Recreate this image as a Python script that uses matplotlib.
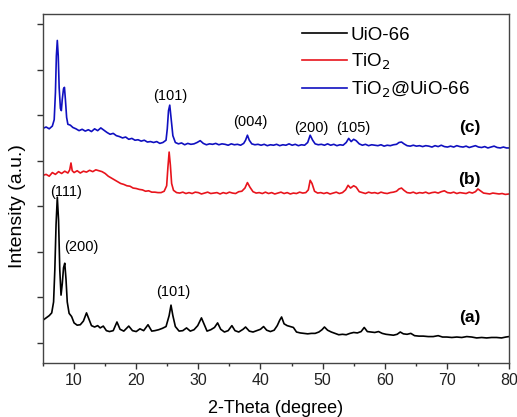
import matplotlib
matplotlib.use("Agg")
import matplotlib.pyplot as plt
from matplotlib.ticker import MultipleLocator, NullFormatter

plt.rcParams['font.family'] = ['Liberation Sans', 'DejaVu Sans']

# ---- data (2-theta, offset intensity in arbitrary units) ----
uio_x = [5.0, 5.5, 6.0, 6.4, 6.7, 6.9, 7.1, 7.3, 7.5, 7.7, 7.9, 8.1, 8.3, 8.5, 8.7, 8.9, 9.2, 9.6,
         10.0, 10.5, 11.0, 11.5, 12.0, 12.4, 12.8, 13.3, 13.8, 14.2, 14.7, 15.2, 15.7, 16.3, 16.9,
         17.4, 18.0, 18.8, 19.4, 20.0, 20.6, 21.2, 21.9, 22.5, 23.0, 23.6, 24.2, 24.8, 25.3, 25.6,
         25.9, 26.3, 26.9, 27.5, 28.1, 28.7, 29.3, 29.9, 30.5, 30.9, 31.4, 32.0, 32.6, 33.1, 33.6,
         34.2, 34.8, 35.4, 35.9, 36.5, 37.2, 37.6, 38.2, 38.8, 39.4, 40.0, 40.5, 41.0, 41.6, 42.2,
         42.7, 43.1, 43.4, 43.8, 44.3, 44.8, 45.3, 45.8, 46.4, 47.0, 47.6, 48.2, 48.8, 49.4, 49.9,
         50.3, 50.8, 51.4, 52.0, 52.6, 53.2, 53.8, 54.4, 55.0, 55.6, 56.2, 56.7, 57.2, 57.8, 58.4,
         59.0, 59.6, 60.2, 60.8, 61.4, 62.0, 62.5, 63.0, 63.6, 64.2, 64.8, 65.5, 66.2, 67.0, 67.8,
         68.6, 69.3, 70.0, 70.8, 71.6, 72.4, 73.2, 74.0, 74.8, 75.6, 76.4, 77.2, 78.0, 78.8, 79.5, 80.0]
uio_y = [0.50, 0.55, 0.60, 0.66, 0.90, 1.60, 2.60, 3.20, 2.70, 1.60, 1.05, 1.30, 1.65, 1.75, 1.40, 0.90, 0.65, 0.58,
         0.44, 0.39, 0.40, 0.48, 0.66, 0.52, 0.38, 0.35, 0.38, 0.33, 0.37, 0.27, 0.25, 0.27, 0.46,
         0.30, 0.26, 0.37, 0.27, 0.25, 0.31, 0.27, 0.40, 0.26, 0.27, 0.29, 0.32, 0.36, 0.60, 0.83,
         0.60, 0.36, 0.26, 0.27, 0.33, 0.26, 0.29, 0.38, 0.55, 0.42, 0.26, 0.29, 0.34, 0.44, 0.30,
         0.24, 0.27, 0.38, 0.27, 0.24, 0.30, 0.35, 0.26, 0.24, 0.27, 0.30, 0.36, 0.28, 0.25, 0.28,
         0.38, 0.50, 0.57, 0.42, 0.38, 0.36, 0.34, 0.24, 0.22, 0.21, 0.20, 0.21, 0.21, 0.24, 0.29,
         0.35, 0.28, 0.24, 0.21, 0.18, 0.19, 0.18, 0.21, 0.23, 0.22, 0.25, 0.34, 0.25, 0.24, 0.23,
         0.25, 0.21, 0.19, 0.18, 0.17, 0.19, 0.24, 0.20, 0.19, 0.21, 0.16, 0.15, 0.15, 0.14, 0.14,
         0.16, 0.13, 0.13, 0.12, 0.13, 0.12, 0.14, 0.13, 0.11, 0.12, 0.11, 0.12, 0.12, 0.11, 0.13, 0.14]

tio2_x = [5.0, 5.5, 6.0, 6.5, 7.0, 7.5, 8.0, 8.5, 9.0, 9.3, 9.5, 9.7, 10.0, 10.5, 11.0, 11.5, 12.0, 12.5,
          13.0, 13.5, 14.0, 14.5, 15.0, 15.5, 16.0, 16.5, 17.0, 17.5, 18.0, 18.5, 19.0, 19.5, 20.0,
          20.5, 21.0, 21.5, 22.0, 22.5, 23.0, 23.5, 24.0, 24.5, 24.9, 25.1, 25.3, 25.5, 25.7, 26.0,
          26.5, 27.0, 27.5, 28.0, 28.5, 29.0, 29.5, 30.0, 30.5, 31.0, 31.5, 32.0, 32.5, 33.0, 33.5,
          34.0, 34.5, 35.0, 35.5, 36.0, 36.5, 37.0, 37.5, 37.9, 38.3, 38.8, 39.3, 39.8, 40.3, 40.8,
          41.3, 41.8, 42.3, 42.8, 43.3, 43.8, 44.3, 44.8, 45.3, 45.8, 46.3, 46.8, 47.3, 47.7, 48.0,
          48.3, 48.7, 49.2, 49.7, 50.2, 50.7, 51.2, 51.7, 52.2, 52.7, 53.2, 53.7, 54.1, 54.5, 55.0,
          55.4, 55.9, 56.4, 56.9, 57.4, 57.9, 58.4, 58.9, 59.4, 59.9, 60.4, 60.9, 61.4, 61.9, 62.3,
          62.7, 63.1, 63.6, 64.1, 64.6, 65.1, 65.6, 66.1, 66.6, 67.1, 67.6, 68.1, 68.6, 69.1, 69.6,
          70.1, 70.6, 71.1, 71.6, 72.1, 72.6, 73.1, 73.6, 74.1, 74.6, 75.0, 75.4, 75.9, 76.4, 76.9,
          77.4, 77.9, 78.4, 78.9, 79.4, 80.0]
tio2_y = [3.68, 3.70, 3.66, 3.74, 3.70, 3.76, 3.72, 3.77, 3.73, 3.80, 3.95, 3.78, 3.74, 3.78, 3.73, 3.77, 3.75, 3.79,
          3.76, 3.80, 3.78, 3.76, 3.72, 3.66, 3.62, 3.58, 3.54, 3.50, 3.48, 3.45, 3.44, 3.40, 3.39,
          3.37, 3.36, 3.33, 3.34, 3.31, 3.31, 3.30, 3.30, 3.33, 3.45, 3.85, 4.19, 3.90, 3.50, 3.35,
          3.30, 3.29, 3.31, 3.28, 3.30, 3.28, 3.31, 3.30, 3.27, 3.29, 3.31, 3.28, 3.29, 3.30, 3.27,
          3.30, 3.28, 3.31, 3.29, 3.28, 3.32, 3.33, 3.40, 3.52, 3.42, 3.32, 3.29, 3.30, 3.28, 3.31,
          3.28, 3.30, 3.27, 3.29, 3.31, 3.28, 3.30, 3.27, 3.29, 3.28, 3.31, 3.29, 3.30, 3.36, 3.57,
          3.50, 3.33, 3.29, 3.30, 3.28, 3.30, 3.27, 3.29, 3.31, 3.28, 3.30, 3.36, 3.46, 3.40, 3.45,
          3.42, 3.32, 3.30, 3.28, 3.31, 3.29, 3.30, 3.28, 3.31, 3.29, 3.28, 3.30, 3.31, 3.33, 3.38,
          3.40, 3.35, 3.30, 3.29, 3.31, 3.28, 3.30, 3.29, 3.31, 3.28, 3.30, 3.31, 3.29, 3.32, 3.34,
          3.30, 3.29, 3.31, 3.28, 3.30, 3.29, 3.28, 3.31, 3.29, 3.32, 3.38, 3.34, 3.29, 3.28, 3.27,
          3.29, 3.28, 3.27, 3.28, 3.26, 3.27]

comp_x = [5.0, 5.5, 6.0, 6.5, 6.8, 7.0, 7.15, 7.3, 7.45, 7.6, 7.8, 7.95, 8.1, 8.3, 8.45, 8.6, 8.8, 9.0,
          9.4, 9.8, 10.3, 10.8, 11.3, 11.8, 12.3, 12.8, 13.3, 13.8, 14.3, 14.8, 15.3, 15.8, 16.3,
          16.8, 17.3, 17.8, 18.3, 18.8, 19.3, 19.8, 20.3, 20.8, 21.3, 21.8, 22.3, 22.8, 23.3, 23.8,
          24.3, 24.8, 25.0, 25.2, 25.4, 25.6, 25.9, 26.3, 26.8, 27.3, 27.8, 28.3, 28.8, 29.3, 29.8,
          30.3, 30.8, 31.3, 31.8, 32.3, 32.8, 33.3, 33.8, 34.3, 34.8, 35.3, 35.8, 36.3, 36.8, 37.3,
          37.6, 37.9, 38.2, 38.6, 39.1, 39.6, 40.1, 40.6, 41.1, 41.6, 42.1, 42.6, 43.1, 43.6, 44.1,
          44.6, 45.1, 45.6, 46.1, 46.6, 47.1, 47.6, 48.0, 48.4, 48.8, 49.3, 49.8, 50.3, 50.8, 51.3,
          51.8, 52.3, 52.8, 53.3, 53.8, 54.2, 54.6, 55.0, 55.4, 55.9, 56.4, 56.9, 57.4, 57.9, 58.4,
          58.9, 59.4, 59.9, 60.4, 60.9, 61.4, 61.9, 62.3, 62.7, 63.1, 63.6, 64.1, 64.6, 65.1, 65.6,
          66.1, 66.6, 67.1, 67.6, 68.1, 68.6, 69.1, 69.6, 70.1, 70.6, 71.1, 71.6, 72.1, 72.6, 73.1,
          73.6, 74.1, 74.6, 75.1, 75.6, 76.1, 76.6, 77.1, 77.6, 78.1, 78.6, 79.1, 79.6, 80.0]
comp_y = [4.71, 4.74, 4.70, 4.76, 4.90, 5.50, 6.30, 6.64, 6.30, 5.60, 5.15, 5.10, 5.35, 5.58, 5.61, 5.35, 4.95, 4.80,
          4.78, 4.73, 4.70, 4.66, 4.69, 4.65, 4.68, 4.64, 4.70, 4.66, 4.72, 4.67, 4.62, 4.58, 4.60,
          4.55, 4.53, 4.50, 4.52, 4.47, 4.49, 4.45, 4.46, 4.43, 4.45, 4.41, 4.42, 4.40, 4.42, 4.38,
          4.40, 4.45, 4.70, 5.10, 5.22, 4.95, 4.55, 4.40, 4.37, 4.39, 4.35, 4.38, 4.36, 4.37, 4.40,
          4.44, 4.38, 4.35, 4.37, 4.36, 4.38, 4.35, 4.37, 4.36, 4.34, 4.37, 4.35, 4.36, 4.34, 4.38,
          4.45, 4.56, 4.45, 4.37, 4.35, 4.36, 4.34, 4.36, 4.33, 4.35, 4.34, 4.36, 4.33, 4.35, 4.34,
          4.37, 4.34, 4.36, 4.33, 4.35, 4.34, 4.40, 4.56, 4.45, 4.37, 4.35, 4.36, 4.34, 4.37, 4.34,
          4.36, 4.33, 4.35, 4.34, 4.40, 4.49, 4.42, 4.47, 4.44, 4.37, 4.34, 4.36, 4.33, 4.35, 4.34,
          4.33, 4.35, 4.32, 4.34, 4.33, 4.35, 4.36, 4.40, 4.41, 4.37, 4.33, 4.32, 4.34, 4.32, 4.33,
          4.31, 4.33, 4.32, 4.30, 4.33, 4.31, 4.34, 4.31, 4.30, 4.32, 4.30, 4.33, 4.31, 4.30, 4.32,
          4.29, 4.31, 4.33, 4.30, 4.29, 4.31, 4.28, 4.30, 4.32, 4.29, 4.28, 4.30, 4.28, 4.28]

series_labels = ['UiO-66', 'TiO$_2$', 'TiO$_2$@UiO-66']
series_colors = ['#000000', '#e8141c', '#1010c0']

peak_labels = ['(111)', '(200)', '(101)', '(101)', '(004)', '(200)', '(105)']
peak_pos = [(8.7, 3.32), (11.2, 2.10), (26.0, 1.12), (25.5, 5.42), (38.4, 4.85), (48.2, 4.72), (54.9, 4.72)]
curve_tags = ['(a)', '(b)', '(c)']
tag_pos = [(73.7, 0.55), (73.7, 3.58), (73.7, 4.72)]

fig = plt.figure(figsize=(5.17, 4.17), dpi=100)
ax = fig.add_axes([0.0832, 0.1295, 0.9013, 0.8369])

lw = 1.2
ax.plot(uio_x, uio_y, color=series_colors[0], lw=lw, label=series_labels[0])
ax.plot(tio2_x, tio2_y, color=series_colors[1], lw=lw, label=series_labels[1])
ax.plot(comp_x, comp_y, color=series_colors[2], lw=lw, label=series_labels[2])

for t, (px, py) in zip(peak_labels, peak_pos):
    ax.text(px, py, t, ha='center', va='center', fontsize=10.5)
for t, (px, py) in zip(curve_tags, tag_pos):
    ax.text(px, py, t, ha='center', va='center', fontsize=12.5, fontweight='bold')

ax.set_xlim(5, 80)
ax.set_ylim(-0.44, 7.22)
ax.xaxis.set_major_locator(MultipleLocator(10))
ax.xaxis.set_minor_locator(MultipleLocator(5))
ax.yaxis.set_major_locator(MultipleLocator(1))
ax.yaxis.set_major_formatter(NullFormatter())
ax.tick_params(axis='both', which='major', direction='out', length=4, width=1, labelsize=11.5, colors='#333333')
ax.tick_params(axis='x', which='minor', direction='out', length=2.5, width=1, colors='#333333')
ax.tick_params(axis='x', labelcolor='#222222')
for s in ax.spines.values():
    s.set_color('#444444')
    s.set_linewidth(1.0)

ax.set_xlabel('2-Theta (degree)', fontsize=13, labelpad=8)
ax.set_ylabel('Intensity (a.u.)', fontsize=14)
ax.yaxis.set_label_coords(-0.036, 0.45)

leg = ax.legend(loc='upper left', bbox_to_anchor=(0.54, 0.985), frameon=False, fontsize=13.5,
                handlelength=2.4, handletextpad=0.2, labelspacing=0.42, borderaxespad=0.0)

fig.savefig('out.png', dpi=100)
